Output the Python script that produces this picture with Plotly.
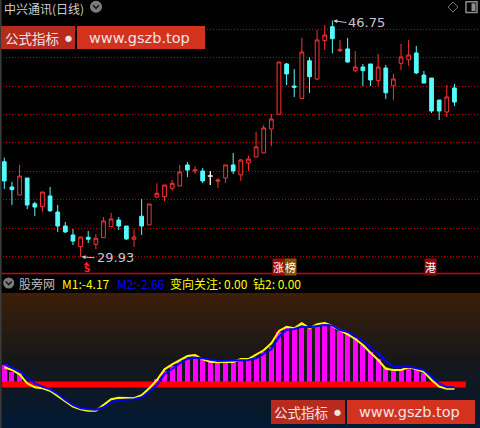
import plotly.graph_objects as go

W, H = 480, 428

# --- daily candles (中兴通讯, 日线) ---
DAYS = list(range(60))
OPEN = [36.70, 34.90, 34.33, 35.54, 33.71, 33.50, 34.26, 33.12, 32.12, 31.48,
        30.65, 31.32, 30.82, 31.29, 32.07, 32.55, 32.12, 31.18, 32.82, 32.20,
        34.19, 34.21, 34.81, 34.97, 36.47, 36.04, 36.04, 35.68, 35.31, 35.54,
        36.47, 35.76, 36.61, 37.04, 37.32, 39.03, 40.08, 43.66, 42.09, 41.20,
        43.89, 42.59, 45.32, 46.31, 44.60, 44.73, 43.18, 43.44, 43.66, 42.47,
        43.37, 42.11, 43.71, 43.96, 44.44, 42.87, 42.66, 41.09, 40.24, 41.95]
HIGH = [36.99, 35.26, 36.47, 35.54, 33.85, 34.54, 34.90, 33.62, 32.41, 31.91,
        31.34, 31.77, 31.55, 32.76, 33.05, 32.76, 32.12, 31.91, 34.05, 33.69,
        35.16, 35.04, 35.40, 36.47, 36.68, 36.39, 36.25, 36.04, 35.54, 36.47,
        37.32, 36.89, 37.11, 38.82, 39.31, 40.10, 43.80, 43.73, 43.30, 45.51,
        44.13, 46.08, 46.43, 46.75, 45.37, 45.51, 44.58, 43.66, 43.66, 44.37,
        43.59, 42.95, 45.08, 45.37, 44.94, 43.16, 42.66, 41.09, 42.16, 42.23]
LOW = [34.76, 33.62, 34.33, 33.33, 32.82, 33.14, 33.12, 31.70, 31.62, 30.77,
       29.93, 30.91, 30.48, 31.29, 32.07, 31.84, 31.13, 30.63, 31.48, 32.20,
       34.12, 33.90, 34.64, 34.97, 35.61, 35.83, 35.18, 35.04, 34.83, 35.18,
       35.82, 35.33, 36.04, 37.04, 37.32, 37.82, 40.08, 42.16, 41.31, 41.20,
       41.61, 42.52, 44.65, 44.42, 44.51, 43.75, 43.09, 42.09, 42.09, 42.09,
       41.17, 41.11, 43.23, 43.52, 42.95, 42.30, 40.17, 39.67, 39.88, 40.67]
CLOSE = [35.33, 34.71, 35.68, 33.62, 33.47, 34.54, 33.21, 32.12, 31.70, 31.05,
         31.34, 31.18, 31.25, 32.48, 32.62, 32.12, 31.20, 31.34, 32.12, 33.69,
         34.45, 35.04, 35.16, 35.97, 36.11, 36.11, 35.33, 35.68, 35.40, 36.47,
         36.04, 36.82, 36.89, 37.75, 39.10, 39.74, 43.80, 42.95, 42.00, 44.51,
         42.75, 45.37, 45.72, 45.46, 44.70, 43.80, 43.44, 43.18, 42.52, 43.44,
         41.61, 42.59, 44.16, 44.30, 43.02, 42.30, 40.31, 40.31, 41.31, 40.95]
GRID_PRICES = [29.94, 31.96, 34.01, 36.00, 38.08, 40.08, 42.07, 44.14, 46.13]

# --- 股旁网 indicator ---
M1 = [17.2, 14.5, 10.2, 1.2, -2.8, -3.8, -6.2, -11.5, -17.2, -22.2,
      -24.8, -26.2, -26.2, -20.5, -14.8, -13.2, -13.8, -13.8, -10.8, -3.8,
      4.5, 15.2, 20.2, 24.5, 28.5, 29.5, 25.2, 22.8, 22.2, 22.8,
      22.5, 25.5, 25.5, 29.8, 34.2, 41.2, 53.5, 57.8, 56.2, 61.2,
      56.2, 60.2, 61.5, 58.5, 54.5, 50.2, 45.5, 39.5, 31.8, 24.5,
      15.8, 14.5, 14.5, 17.2, 15.2, 12.8, 4.5, -2.2, -4.2, -4.17]
M2 = [20.5, 16.8, 13.2, 7.2, 1.2, -2.2, -4.8, -9.5, -15.5, -20.5,
      -23.8, -24.8, -25.2, -22.8, -17.8, -15.5, -14.8, -14.8, -12.8, -7.2,
      -0.5, 10.5, 15.5, 21.2, 25.8, 26.8, 26.2, 24.5, 23.5, 23.8,
      23.8, 24.2, 24.5, 26.2, 30.8, 35.2, 47.8, 54.5, 55.5, 57.8,
      57.2, 58.5, 59.5, 59.0, 54.5, 52.8, 48.5, 43.5, 37.2, 31.2,
      23.5, 17.8, 17.2, 17.8, 16.2, 14.5, 7.8, 1.2, -2.8, -2.66]
BARS = [19.5, 12.8, 11.2, 0, 0, 0, 0, 0, 0, 0,
        0, 0, 0, 0, 0, 0, 0, 0, 0, 0,
        5.5, 13.5, 18.5, 23.5, 26.8, 28.8, 25.5, 24.5, 22.8, 23.5,
        22.8, 24.5, 24.5, 27.8, 32.5, 37.2, 52.8, 57.2, 55.2, 61.2,
        55.2, 59.5, 61.2, 58.5, 53.8, 51.2, 46.2, 39.5, 32.8, 25.5,
        17.2, 14.5, 14.5, 18.5, 15.5, 11.2, 0, 0, 0, 0]
ZVAL = 0.0   # zero level of the indicator (thick red band)
TURN = 0.00  # 变向关注
DRILL = 0.00  # 钻2

UP, DOWN = "#FF3232", "#54FCFC"
X_RANGE = [-0.5636, 62.35]
CJK = "Noto Sans CJK SC"


def px(x):
    return x / W


def py(y):
    return 1 - y / H


def mix(c1, c2, t):
    return "rgb(%d,%d,%d)" % tuple(round(a + (b - a) * t) for a, b in zip(c1, c2))


fig = go.Figure()

fig.add_trace(go.Candlestick(
    x=DAYS, open=OPEN, high=HIGH, low=LOW, close=CLOSE,
    increasing=dict(line=dict(color=UP, width=1), fillcolor="#000000"),
    decreasing=dict(line=dict(color=DOWN, width=1), fillcolor=DOWN),
    whiskerwidth=0, hoverinfo="skip", xaxis="x", yaxis="y",
))

# doji candles are white
for i in DAYS:
    if OPEN[i] == CLOSE[i] and HIGH[i] != LOW[i] and HIGH[i] != CLOSE[i]:
        fig.add_trace(go.Scatter(
            x=[i, i, None, i - 0.33, i + 0.33], y=[LOW[i], HIGH[i], None, OPEN[i], OPEN[i]],
            mode="lines", line=dict(color="#FFFFFF", width=1.2),
            hoverinfo="skip", xaxis="x", yaxis="y",
        ))

fig.add_trace(go.Bar(
    x=DAYS, y=BARS, marker=dict(color="#FF00FF", line=dict(width=0)),
    width=0.66, hoverinfo="skip", xaxis="x2", yaxis="y2",
))
fig.add_trace(go.Scatter(
    x=[-0.3, 60.5], y=[ZVAL, ZVAL], mode="lines",
    line=dict(color="#FF0000", width=6), hoverinfo="skip", xaxis="x2", yaxis="y2",
))
fig.add_trace(go.Scatter(
    x=DAYS, y=M1, mode="lines", line=dict(color="#FFFF00", width=2),
    hoverinfo="skip", xaxis="x2", yaxis="y2",
))
fig.add_trace(go.Scatter(
    x=DAYS, y=M2, mode="lines", line=dict(color="#0000FF", width=2),
    hoverinfo="skip", xaxis="x2", yaxis="y2",
))

shapes = []
# gradient background of the indicator panel
top_c, mid_c, bot_c = (60, 31, 8), (22, 23, 25), (2, 26, 52)
y_top, y_mid, y_bot = 293, 360, 428
step = 3
y = y_top
while y < y_bot:
    yc = y + step / 2
    if yc < y_mid:
        col = mix(top_c, mid_c, (yc - y_top) / (y_mid - y_top))
    else:
        col = mix(mid_c, bot_c, (yc - y_mid) / (y_bot - y_mid))
    shapes.append(dict(type="rect", xref="paper", yref="paper", layer="below",
                       x0=0, x1=1, y0=py(min(y + step, y_bot)), y1=py(y),
                       fillcolor=col, line=dict(width=0)))
    y += step

# separator + left border
shapes.append(dict(type="line", xref="paper", yref="paper", x0=0, x1=1,
                   y0=py(273.5), y1=py(273.5), line=dict(color="#D00000", width=1.5)))
shapes.append(dict(type="line", xref="paper", yref="paper", x0=px(0.8), x1=px(0.8),
                   y0=0, y1=1, line=dict(color="#3A3A3A", width=1.6)))


# watermarks
def watermark(xb0, xb1, xp1, y0, y1):
    shapes.append(dict(type="rect", xref="paper", yref="paper", x0=px(xb0), x1=px(xb1),
                       y0=py(y1), y1=py(y0), fillcolor="#B82A1E", line=dict(width=0)))
    shapes.append(dict(type="rect", xref="paper", yref="paper", x0=px(xb1 + 2), x1=px(xp1),
                       y0=py(y1), y1=py(y0), fillcolor="#D2321E", line=dict(width=0)))


watermark(1, 75, 205, 26, 49)
watermark(271, 345, 475, 400, 424)

# title chevron icon, lower header icon
for cx, cy, r in [(96, 6.8, 6), (8.7, 283, 5.5)]:
    shapes.append(dict(type="circle", xref="paper", yref="paper",
                       x0=px(cx - r), x1=px(cx + r), y0=py(cy + r), y1=py(cy - r),
                       fillcolor="#7C7C7C", line=dict(width=0)))
    shapes.append(dict(type="path", xref="paper", yref="paper",
                       path="M {},{} L {},{} L {},{}".format(
                           px(cx - 3), py(cy - 1.5), px(cx), py(cy + 1.5), px(cx + 3), py(cy - 1.5)),
                       line=dict(color="#1A1A1A", width=1.6)))

# top-right icons
shapes.append(dict(type="path", xref="paper", yref="paper",
                   path="M {},{} L {},{} L {},{} L {},{} Z".format(
                       px(453), py(2), px(458), py(7), px(453), py(12), px(448), py(7)),
                   line=dict(color="#6E6E6E", width=1)))
shapes.append(dict(type="rect", xref="paper", yref="paper", x0=px(466), x1=px(477),
                   y0=py(12.5), y1=py(1.8), line=dict(color="#8C8C8C", width=1.5)))
shapes.append(dict(type="rect", xref="paper", yref="paper", x0=px(471.5), x1=px(475.5),
                   y0=py(11), y1=py(3.3), fillcolor="#8C8C8C", line=dict(width=0)))

# sell arrow head under the low candle
shapes.append(dict(type="path", xref="paper", yref="paper",
                   path="M {},{} L {},{} L {},{} Z".format(
                       px(83.8), py(265), px(86.5), py(261.5), px(89.2), py(265)),
                   fillcolor="#FF2020", line=dict(width=0)))

ann = []


def label(x, y, text, color, size=12, anchor="left", family=CJK, **kw):
    ann.append(dict(xref="paper", yref="paper", x=px(x), y=py(y), text=text,
                    showarrow=False, xanchor=anchor, yanchor="middle",
                    font=dict(color=color, size=size, family=family), **kw))


label(2, 8.5, "中兴通讯(日线)", "#CFCFCF", 12)
label(3, 37.5, "公式指标", "#EDE4E4", 13.5)
label(68, 37.5, "●", "#EDE4E4", 7, anchor="center")
label(87, 37.5, "www.gszb.top", "#EDE4E4", 14.5, family="DejaVu Sans")
label(272, 412, "公式指标", "#EDE4E4", 13.5)
label(337, 412, "●", "#EDE4E4", 7, anchor="center")
label(357, 412, "www.gszb.top", "#EDE4E4", 14.5, family="DejaVu Sans")

# high / low markers
hi = max(HIGH)
lo = min(LOW)
ihi, ilo = HIGH.index(hi), LOW.index(lo)
for xi, yv, ay in [(ihi, hi, 2), (ilo, lo, 1)]:
    ann.append(dict(xref="x", yref="y", x=xi, y=yv, text="%.2f" % yv, showarrow=True,
                    ax=14, ay=ay, xanchor="left", yanchor="middle", arrowhead=2,
                    arrowsize=0.8, arrowwidth=1, arrowcolor="#C8C8C8", standoff=1,
                    font=dict(color="#C8C8C8", size=13, family="DejaVu Sans")))

label(86.5, 268.8, "<b>S</b>", "#FF2020", 9, anchor="center", family="DejaVu Sans",
      borderpad=0)
label(278, 266.5, "涨", "#FFFFFF", 11, anchor="center", bgcolor="#9A0A0A", borderpad=0)
label(290.5, 266.5, "榜", "#FFFFFF", 11, anchor="center", bgcolor="#8A5200", borderpad=0)
label(430.5, 266.5, "港", "#FFFFFF", 11, anchor="center", bgcolor="#8E0A0A", borderpad=0)

# indicator header
label(17, 283.5, "股旁网", "#BDBDBD", 12)
label(60, 283.5, "M1:%.2f" % M1[-1], "#FFFF00", 12)
label(115, 283.5, "M2:%.2f" % M2[-1], "#0000FF", 12)
label(168, 283.5, "变向关注: %.2f" % TURN, "#FFFF00", 12)
label(251, 283.5, "钻2: %.2f" % DRILL, "#FFFF00", 12)

fig.update_layout(
    width=W, height=H, margin=dict(l=0, r=0, t=0, b=0),
    paper_bgcolor="#000000", plot_bgcolor="rgba(0,0,0,0)",
    showlegend=False, hovermode=False,
    xaxis=dict(domain=[0, 1], anchor="y", range=X_RANGE, visible=False,
               rangeslider=dict(visible=False)),
    yaxis=dict(domain=[py(273), 1], anchor="x", range=[28.776, 48.214],
               tickvals=GRID_PRICES, showticklabels=False, showgrid=True,
               gridcolor="#C00000", griddash="1px,2px", gridwidth=1,
               zeroline=False, showline=False),
    xaxis2=dict(domain=[0, 1], anchor="y2", range=X_RANGE, visible=False),
    yaxis2=dict(domain=[0, py(293)], anchor="x2", range=[-43.5, 91.5], visible=False),
    shapes=shapes, annotations=ann, bargap=0,
)

fig.write_html(
    "out.html",
    config={"displayModeBar": False},
    post_script="document.body.style.margin='0';document.body.style.background='#000';",
)
